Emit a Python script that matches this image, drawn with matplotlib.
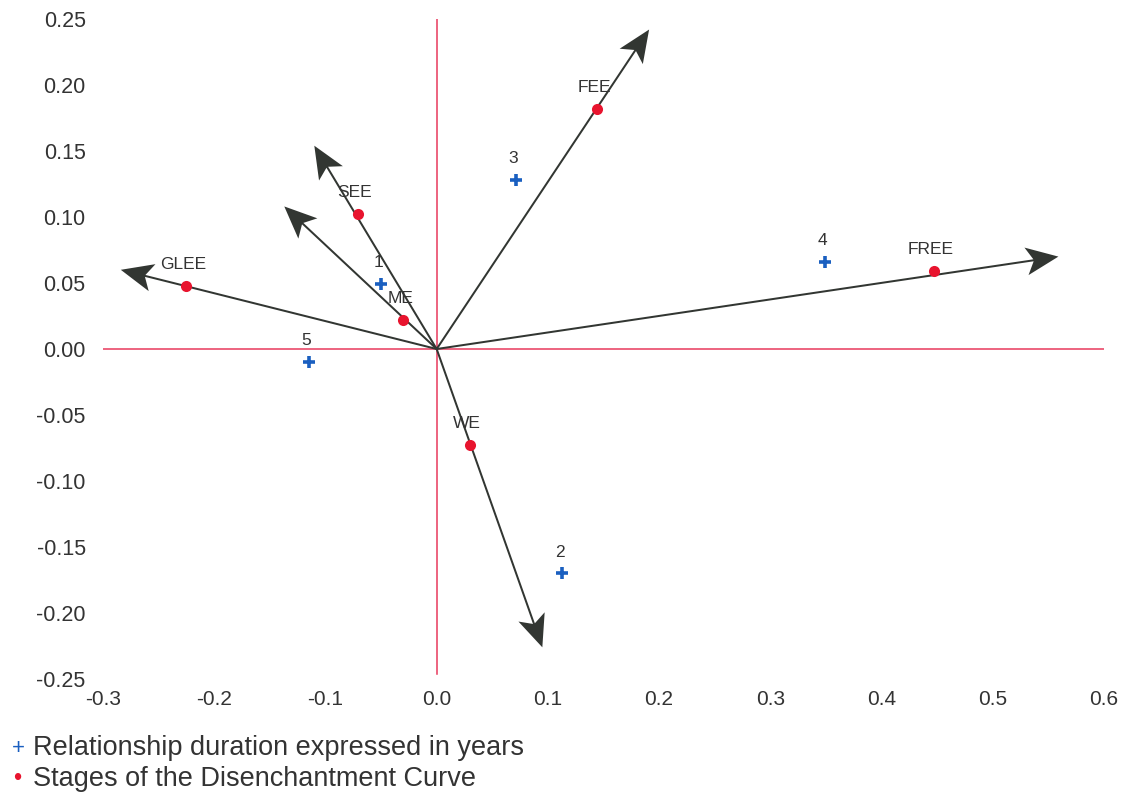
import matplotlib
matplotlib.use("Agg")
import matplotlib.pyplot as plt
from matplotlib.transforms import Affine2D

# ---- data ----
stage_names = ["FEE", "SEE", "GLEE", "ME", "FREE", "WE"]
stage_x = [0.144, -0.071, -0.225, -0.030, 0.447, 0.030]
stage_y = [0.182, 0.102, 0.048, 0.022, 0.059, -0.073]

duration_labels = ["1", "2", "3", "4", "5"]
duration_x = [-0.050, 0.113, 0.071, 0.349, -0.115]
duration_y = [0.049, -0.170, 0.128, 0.066, -0.010]

# arrow end points (vectors from the origin)
arrow_x = [0.191, -0.110, -0.137, -0.284, 0.559, 0.095]
arrow_y = [0.242, 0.154, 0.108, 0.060, 0.070, -0.226]

xticks = [-0.3, -0.2, -0.1, 0.0, 0.1, 0.2, 0.3, 0.4, 0.5, 0.6]
yticks = [-0.25, -0.20, -0.15, -0.10, -0.05, 0.00, 0.05, 0.10, 0.15, 0.20, 0.25]

legend_items = ["Relationship duration expressed in years",
                "Stages of the Disenchantment Curve"]

# ---- style ----
plt.rcParams['font.family'] = ['Liberation Sans', 'DejaVu Sans']
RED_LINE = '#e8395c'
RED_PT = '#e8142e'
BLUE = '#1a5fc0'
ARROW = '#323632'
TXT = '#333333'

W, H, DPI = 1127, 795, 100
fig = plt.figure(figsize=(W / DPI, H / DPI), dpi=DPI)
ax = fig.add_axes([103 / W, 1 - 679 / H, (1104 - 103) / W, (679 - 19) / H])
ax.set_xlim(-0.3, 0.6)
ax.set_ylim(-0.25, 0.25)
for s in ax.spines.values():
    s.set_visible(False)

ax.axhline(0, color=RED_LINE, lw=1.1, zorder=1)
ax.axvline(0, color=RED_LINE, lw=1.1, ymin=0.008, ymax=1.0, zorder=1)

# arrows drawn in an isotropic coordinate system so heads are undistorted
px_per_x = (1104 - 103) / 0.9
px_per_y = (679 - 19) / 0.5
sy = px_per_y / px_per_x
iso = Affine2D().scale(1, 1 / sy) + ax.transData
for ax_, ay_ in zip(arrow_x, arrow_y):
    ax.arrow(0, 0, ax_, ay_ * sy, transform=iso, width=0.0018,
             head_width=0.025, head_length=0.029, overhang=0.22,
             length_includes_head=True, color=ARROW, lw=0, zorder=2)

ax.plot(stage_x, stage_y, 'o', color=RED_PT, ms=8, zorder=3, mec='none')
ax.plot(duration_x, duration_y, '+', color=BLUE, ms=9, mew=2.6, zorder=3)

for n, x, y in zip(stage_names, stage_x, stage_y):
    ax.annotate(n, (x, y), xytext=(-2, 10), textcoords='offset points',
                ha='center', va='bottom', fontsize=12.5, color=TXT, zorder=4)
for n, x, y in zip(duration_labels, duration_x, duration_y):
    ax.annotate(n, (x, y), xytext=(-2, 10), textcoords='offset points',
                ha='center', va='bottom', fontsize=12.5, color=TXT, zorder=4)

ax.set_xticks(xticks)
ax.set_xticklabels([f"{v:.1f}" for v in xticks])
ax.set_yticks(yticks)
ax.set_yticklabels([f"{v:.2f}" for v in yticks])
ax.tick_params(axis='both', length=0, colors=TXT, labelsize=15.5)
ax.tick_params(axis='y', pad=12.5)
ax.tick_params(axis='x', pad=8)
for lbl in ax.get_xticklabels():
    lbl.set_fontsize(15)

# legend-like notes at the bottom
fig.text(12 / W, 1 - 748 / H, "+", color=BLUE, fontsize=16, va='center', ha='left')
fig.text(33 / W, 1 - 748 / H, legend_items[0], color=TXT, fontsize=19.5,
         va='center', ha='left')
fig.text(13 / W, 1 - 779 / H, "\u2022", color=RED_PT, fontsize=17, va='center', ha='left')
fig.text(33 / W, 1 - 779 / H, legend_items[1], color=TXT, fontsize=19.5,
         va='center', ha='left')

fig.savefig("out.png", dpi=DPI)
